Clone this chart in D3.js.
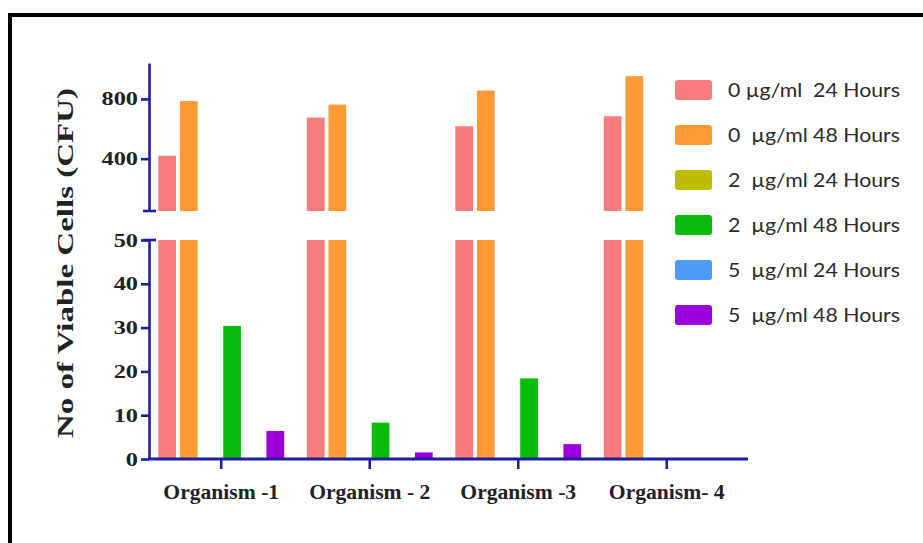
<!DOCTYPE html>
<html>
<head>
<meta charset="utf-8">
<script src="https://cdn.jsdelivr.net/npm/d3@7"></script>
<style>
  html, body { margin: 0; padding: 0; background: #fff; }
  svg { display: block; }
  .serif { font-family: "Liberation Serif", "Times New Roman", serif; font-weight: bold; fill: #222; }
  .leg { font-family: "Lato", "Open Sans", sans-serif; fill: #2a2a2a; white-space: pre; }
</style>
</head>
<body>
<svg id="chart" width="923" height="543"></svg>
<script>
// ---------- data ----------
const organisms = ["Organism -1", "Organism - 2", "Organism -3", "Organism- 4"];
const seriesNames = ["0 µg/ml  24 Hours", "0  µg/ml 48 Hours", "2  µg/ml 24 Hours",
                     "2  µg/ml 48 Hours", "5  µg/ml 24 Hours", "5  µg/ml 48 Hours"];
const seriesColors = ["#F97B7B", "#FD9A36", "#BDBD00", "#0BBB0B", "#4C9BF5", "#9B00DB"];
const s0_24 = [420, 675, 617, 684];
const s0_48 = [785, 762, 856, 952];
const s2_24 = [0, 0, 0, 0];
const s2_48 = [30.4, 8.3, 18.4, 0];
const s5_24 = [0, 0, 0, 0];
const s5_48 = [6.4, 1.5, 3.4, 0];
const seriesValues = [s0_24, s0_48, s2_24, s2_48, s5_24, s5_48];
const upperTicks = [400, 800];
const lowerTicks = [0, 10, 20, 30, 40, 50];
const breakLow = 50;     // top of lower segment
const upperMax = 1040;   // top of upper segment

// ---------- layout ----------
const svg = d3.select("#chart");
const axisColor = "#1E1E9E";
const axisX = 149;

// frame
svg.append("rect").attr("x", 10).attr("y", 15).attr("width", 1000).attr("height", 1000)
  .attr("fill", "none").attr("stroke", "#000").attr("stroke-width", 4);

const x0 = d3.scaleBand().domain(organisms).range([147, 741]).paddingInner(0.1).paddingOuter(0.05);
const x1 = d3.scaleBand().domain(d3.range(seriesNames.length)).range([0, x0.bandwidth()]).padding(0.18);
const yLow = d3.scaleLinear().domain([0, breakLow]).range([459, 240]);
const yUp = d3.scaleLinear().domain([breakLow, upperMax]).range([211, 63]);

// rows of bar data
const rows = [];
organisms.forEach((o, i) => {
  seriesValues.forEach((vals, s) => rows.push({ org: o, s: s, v: vals[i] }));
});

// lower segment bars
svg.append("g").selectAll("rect").data(rows).join("rect")
  .attr("x", d => x0(d.org) + x1(d.s))
  .attr("width", x1.bandwidth())
  .attr("y", d => yLow(Math.min(d.v, breakLow)))
  .attr("height", d => yLow(0) - yLow(Math.min(d.v, breakLow)))
  .attr("fill", d => seriesColors[d.s]);

// upper segment bars
svg.append("g").selectAll("rect").data(rows.filter(d => d.v > breakLow)).join("rect")
  .attr("x", d => x0(d.org) + x1(d.s))
  .attr("width", x1.bandwidth())
  .attr("y", d => yUp(d.v))
  .attr("height", d => yUp(breakLow) - yUp(d.v))
  .attr("fill", d => seriesColors[d.s]);

function styleAxis(g) {
  g.selectAll("path, line").attr("stroke", axisColor).attr("stroke-width", 2.6);
  g.selectAll("text").attr("class", "serif").attr("fill", "#222");
}

// upper y axis
const gUp = svg.append("g").attr("transform", `translate(${axisX},0)`)
  .call(d3.axisLeft(yUp).tickValues(upperTicks).tickSize(8).tickSizeOuter(0).tickPadding(3).tickFormat(d3.format("d")))
  .call(styleAxis);
gUp.selectAll("text").style("font-size", "19px");
gUp.append("line").attr("x1", -6).attr("x2", 7).attr("y1", yUp(breakLow)).attr("y2", yUp(breakLow))
  .attr("stroke", axisColor).attr("stroke-width", 2.6);

// lower y axis
const gLow = svg.append("g").attr("transform", `translate(${axisX},0)`)
  .call(d3.axisLeft(yLow).tickValues(lowerTicks).tickSize(8).tickSizeOuter(0).tickPadding(3).tickFormat(d3.format("d")))
  .call(styleAxis);
gLow.selectAll("text").style("font-size", "19px");
gLow.append("line").attr("x1", -6).attr("x2", 7).attr("y1", yLow(breakLow)).attr("y2", yLow(breakLow))
  .attr("stroke", axisColor).attr("stroke-width", 2.6);

// x axis
const gX = svg.append("g").attr("transform", `translate(0,${yLow(0)})`)
  .call(d3.axisBottom(x0).tickSize(10).tickSizeOuter(0).tickPadding(16))
  .call(styleAxis);
gX.select(".domain").remove();
gX.append("line").attr("x1", axisX - 1).attr("x2", 748).attr("y1", 0).attr("y2", 0)
  .attr("stroke", axisColor).attr("stroke-width", 2.8);
gX.selectAll("text").style("font-size", "20px");

// stretch serif labels horizontally like the original
function stretch(sel, k) {
  sel.each(function () {
    const w = this.getComputedTextLength();
    d3.select(this).attr("textLength", w * k).attr("lengthAdjust", "spacingAndGlyphs");
  });
}
stretch(gUp.selectAll(".tick text"), 1.28);
stretch(gLow.selectAll(".tick text"), 1.28);
stretch(gX.selectAll(".tick text"), 1.08);

// y title
const title = svg.append("text").attr("class", "serif")
  .attr("transform", "translate(73,263) rotate(-90)")
  .attr("text-anchor", "middle")
  .style("font-size", "24px")
  .text("No of Viable Cells (CFU)");
title.attr("textLength", 350).attr("lengthAdjust", "spacingAndGlyphs");

// legend
const leg = svg.append("g");
const legItems = leg.selectAll("g").data(seriesNames).join("g")
  .attr("transform", (d, i) => `translate(675,${90 + i * 45})`);
legItems.append("rect").attr("x", 0).attr("y", -10).attr("width", 37).attr("height", 20).attr("rx", 3)
  .attr("fill", (d, i) => seriesColors[i]);
legItems.append("text").attr("class", "leg").attr("x", 53).attr("y", 7)
  .style("font-size", "20px")
  .text(d => d)
  .attr("textLength", 172).attr("lengthAdjust", "spacingAndGlyphs");
</script>
</body>
</html>
